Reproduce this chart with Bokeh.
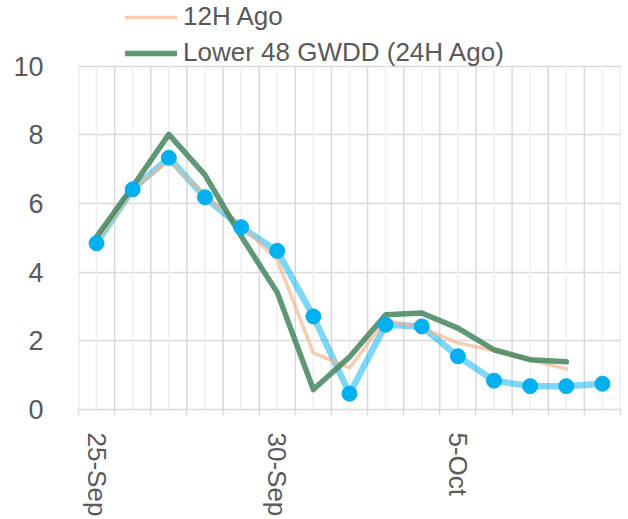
from bokeh.plotting import figure
from bokeh.models import (FixedTicker, Range1d, Legend, LegendItem)
from bokeh.embed import file_html
from bokeh.resources import INLINE

# ---- data ----
dates = ["25-Sep", "26-Sep", "27-Sep", "28-Sep", "29-Sep", "30-Sep", "1-Oct",
         "2-Oct", "3-Oct", "4-Oct", "5-Oct", "6-Oct", "7-Oct", "8-Oct", "9-Oct"]
current = [4.84, 6.41, 7.33, 6.18, 5.31, 4.62, 2.71, 0.46, 2.47, 2.42,
           1.55, 0.84, 0.68, 0.68, 0.75]
ago_12h = [4.88, 6.38, 7.26, 6.24, 5.37, 4.36, 1.65, 1.21, 2.61, 2.37,
           1.94, 1.71, 1.45, 1.18]
ago_24h = [5.03, 6.49, 8.01, 6.83, 5.05, 3.41, 0.58, 1.53, 2.76, 2.81,
           2.37, 1.74, 1.45, 1.39]
label_dates = ["25-Sep", "30-Sep", "5-Oct"]
y_ticks = [0, 2, 4, 6, 8, 10]

x_cur = list(range(len(current)))
x_12 = list(range(len(ago_12h)))
x_24 = list(range(len(ago_24h)))
n = len(dates)
y_min, y_max = y_ticks[0], y_ticks[-1]

FONT = "Liberation Sans"
TXT = "#595959"
GRID = "#d9d9d9"

# frame spans the legend area too; the value axis tops out at 10 at y=66px
p = figure(width=622, height=519, output_backend="svg", toolbar_location=None,
           x_range=Range1d(-0.5, n - 0.5), y_range=Range1d(0, 11.91),
           min_border_left=78, min_border_right=2, min_border_top=0,
           min_border_bottom=109)
p.outline_line_color = None
p.background_fill_color = "white"
p.border_fill_color = "white"

# grids: vertical lines drawn between 0 and 10 only
boundaries = [i - 0.5 for i in range(n + 1)]
centers = list(range(n))
p.xgrid.visible = False
p.segment(x0=centers, y0=[y_min] * n, x1=centers, y1=[y_max] * n,
          line_color="#efefef", line_width=1.5)
p.segment(x0=boundaries, y0=[y_min] * (n + 1), x1=boundaries,
          y1=[y_max] * (n + 1), line_color=GRID, line_width=1.5)
p.ygrid.ticker = FixedTicker(ticks=y_ticks)
p.ygrid.grid_line_color = GRID
p.ygrid.grid_line_width = 1.5

# x axis
label_idx = [dates.index(d) for d in label_dates]
p.xaxis.ticker = FixedTicker(ticks=label_idx, minor_ticks=boundaries)
p.xaxis.major_label_overrides = {i: d for i, d in zip(label_idx, label_dates)}
p.xaxis.major_label_orientation = "vertical"
p.xaxis.major_tick_out = 0
p.xaxis.major_tick_in = 0
p.xaxis.minor_tick_out = 6
p.xaxis.minor_tick_in = 0
p.xaxis.minor_tick_line_color = GRID
p.xaxis.minor_tick_line_width = 1.5
p.xaxis.axis_line_color = GRID
p.xaxis.axis_line_width = 1.5
p.xaxis.major_label_standoff = 17
p.xaxis.major_label_text_font = FONT
p.xaxis.major_label_text_font_size = "26px"
p.xaxis.major_label_text_color = TXT

# y axis
p.yaxis.ticker = FixedTicker(ticks=y_ticks)
p.yaxis.axis_line_color = None
p.yaxis.major_tick_line_color = None
p.yaxis.minor_tick_line_color = None
p.yaxis.major_tick_out = 0
p.yaxis.major_tick_in = 0
p.yaxis.major_label_standoff = 35
p.yaxis.major_label_text_font = FONT
p.yaxis.major_label_text_font_size = "27px"
p.yaxis.major_label_text_color = TXT

# series
r_cur = p.line(x_cur, current, line_color="#00B0F0", line_alpha=0.5,
               line_width=6.5, line_join="round", line_cap="round")
r_12 = p.line(x_12, ago_12h, line_color="#F4B183", line_alpha=0.65,
              line_width=3.5, line_join="round", line_cap="round")
r_24 = p.line(x_24, ago_24h, line_color="#44855E", line_alpha=0.85,
              line_width=5.5, line_join="round", line_cap="round")
p.scatter(x_cur, current, size=15, fill_color="#00B0F0", line_color="#00B0F0")

legend = Legend(items=[LegendItem(label="12H Ago", renderers=[r_12]),
                       LegendItem(label="Lower 48 GWDD (24H Ago)", renderers=[r_24])],
                location=(47, 341), orientation="vertical",
                label_text_font=FONT, label_text_font_size="26px",
                label_text_color=TXT, glyph_width=52, glyph_height=30,
                label_height=30, label_standoff=6, spacing=5, padding=0,
                margin=0, border_line_color=None, background_fill_alpha=0)
p.add_layout(legend, "center")

open("out.html", "w").write(file_html(p, INLINE))
